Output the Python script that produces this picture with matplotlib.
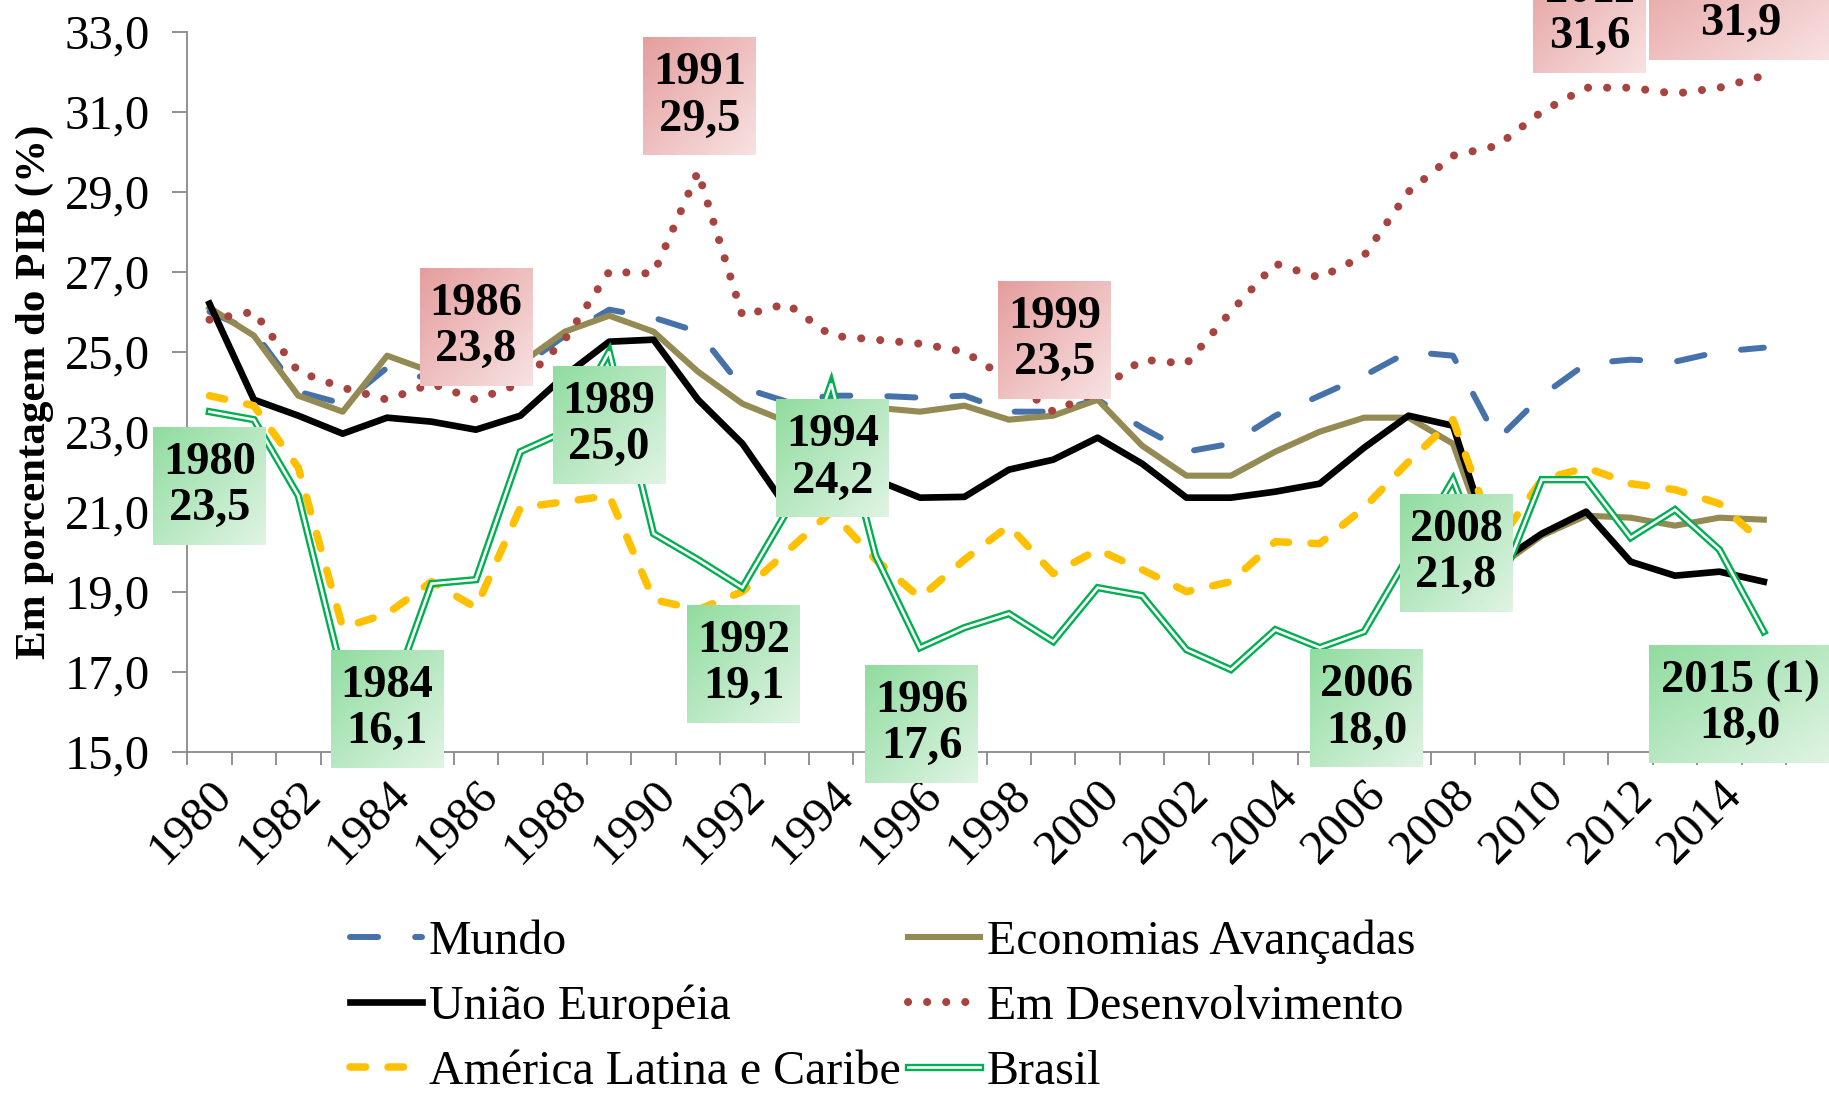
import numpy as np
import matplotlib
matplotlib.use('Agg')
import matplotlib.pyplot as plt
from matplotlib import patheffects as pe
from matplotlib.colors import to_rgb
from matplotlib.ticker import FuncFormatter, NullFormatter, FixedLocator

# ---------------- data ----------------
years = list(range(1980, 2016))

mundo = [26.0, 25.5, 24.0, 23.7, 24.6, 24.3, 24.2, 24.6, 25.4, 26.05,
         25.85, 25.5, 24.1, 23.75, 23.9, 23.9, 23.85, 23.9, 23.5, 23.5,
         23.8, 23.1, 22.5, 22.7, 23.4, 23.9, 24.4, 25.0, 24.9, 22.8,
         23.9, 24.7, 24.8, 24.75, 25.0, 25.1]

econ_avancadas = [26.1, 25.4, 23.9, 23.5, 24.9, 24.5, 24.3, 24.7, 25.5, 25.9,
                  25.5, 24.5, 23.7, 23.25, 23.7, 23.6, 23.5, 23.65, 23.3, 23.4,
                  23.8, 22.65, 21.9, 21.9, 22.5, 23.0, 23.35, 23.35, 22.7, 19.6,
                  20.4, 20.9, 20.85, 20.65, 20.85, 20.8]

uniao_europeia = [26.2, 23.8, 23.4, 22.95, 23.35, 23.25, 23.05, 23.4, 24.4, 25.25,
                  25.3, 23.8, 22.7, 21.1, 22.0, 21.8, 21.35, 21.37, 22.05, 22.3,
                  22.85, 22.2, 21.35, 21.35, 21.5, 21.7, 22.6, 23.4, 23.15, 19.7,
                  20.45, 21.0, 19.75, 19.4, 19.5, 19.25]

em_desenvolvimento = [25.8, 26.0, 24.5, 24.1, 23.8, 24.2, 23.8, 24.2, 25.3, 27.0,
                      26.95, 29.5, 25.9, 26.2, 25.4, 25.3, 25.2, 25.0, 24.3, 23.5,
                      24.0, 24.8, 24.7, 26.0, 27.2, 26.85, 27.4, 29.0, 29.9, 30.15,
                      31.0, 31.6, 31.6, 31.45, 31.6, 31.9]

america_latina = [23.9, 23.65, 22.1, 18.1, 18.45, 19.25, 18.6, 21.1, 21.25, 21.4,
                  18.8, 18.55, 19.0, 20.0, 21.0, 19.8, 18.85, 19.8, 20.65, 19.45,
                  20.05, 19.55, 19.0, 19.25, 20.25, 20.2, 21.1, 22.25, 23.3, 20.2,
                  21.8, 22.1, 21.7, 21.55, 21.2, 20.2]

brasil = [23.5, 23.3, 21.4, 16.9, 16.1, 19.2, 19.3, 22.5, 23.0, 25.0,
          20.45, 19.8, 19.1, 21.0, 24.2, 19.9, 17.6, 18.1, 18.45, 17.75,
          19.1, 18.9, 17.55, 17.05, 18.05, 17.6, 18.0, 19.9, 21.8, 19.0,
          21.8, 21.8, 20.35, 21.05, 20.05, 18.0]

series_names = ["Mundo", "Economias Avançadas", "União Européia",
                "Em Desenvolvimento", "América Latina e Caribe", "Brasil"]

tick_label_years = list(range(1980, 2015, 2))
y_ticks = [15, 17, 19, 21, 23, 25, 27, 29, 31, 33]

# annotated points (series, year) ; year 2015 is marked "(1)"
ann_series = ["Brasil", "Brasil", "Em Desenvolvimento", "Brasil", "Em Desenvolvimento",
              "Brasil", "Brasil", "Brasil", "Em Desenvolvimento", "Brasil",
              "Brasil", "Em Desenvolvimento", "Brasil", "Em Desenvolvimento"]
ann_years = [1980, 1984, 1986, 1989, 1991, 1992, 1994, 1996, 1999, 2006,
             2008, 2011, 2015, 2015]
ann_year_text = {2015: "2015 (1)"}

# --------------- layout / style ---------------
W, H, DPI = 18.29, 10.93, 100
fig = plt.figure(figsize=(W, H), dpi=DPI)
ax = fig.add_axes([0.1024, 0.3123, 0.8741, 0.6587])

SERIF = ["Liberation Serif", "DejaVu Serif"]
AXC = "#898989"

values = {
    "Mundo": mundo,
    "Economias Avançadas": econ_avancadas,
    "União Européia": uniao_europeia,
    "Em Desenvolvimento": em_desenvolvimento,
    "América Latina e Caribe": america_latina,
    "Brasil": brasil,
}

lines = {}
l, = ax.plot(years, mundo, color="#4672A9", lw=4.3, dashes=(4.7, 6.2),
             dash_capstyle="round", solid_joinstyle="round", zorder=2, label="Mundo")
lines["Mundo"] = l
l, = ax.plot(years, econ_avancadas, color="#948A54", lw=4.4, solid_joinstyle="round",
             zorder=3, label="Economias Avançadas")
lines["Economias Avançadas"] = l
l, = ax.plot(years, uniao_europeia, color="black", lw=4.8, solid_joinstyle="round",
             zorder=4, label="União Européia")
lines["União Européia"] = l
l, = ax.plot(years, em_desenvolvimento, color="#A84440", lw=5.8, dashes=(0.01, 2.36),
             dash_capstyle="round", zorder=5, label="Em Desenvolvimento")
lines["Em Desenvolvimento"] = l
l, = ax.plot(years, america_latina, color="#FFC000", lw=5.4, dashes=(2.07, 3.0),
             dash_capstyle="round", zorder=6, label="América Latina e Caribe")
lines["América Latina e Caribe"] = l
l, = ax.plot(years, brasil, color="white", lw=1.9, solid_joinstyle="miter", zorder=7,
             label="Brasil",
             path_effects=[pe.Stroke(linewidth=5.3, foreground="#00B050"), pe.Normal()])
lines["Brasil"] = l

# axes limits and ticks
ax.set_autoscale_on(False)
ax.set_xlim(years[0] - 0.5, years[-1] + 0.5)
ax.set_ylim(y_ticks[0], y_ticks[-1])

for s in ["top", "right"]:
    ax.spines[s].set_visible(False)
for s in ["left", "bottom"]:
    ax.spines[s].set_color(AXC)
    ax.spines[s].set_linewidth(1.3)

ax.set_yticks(y_ticks)
ax.yaxis.set_major_formatter(FuncFormatter(lambda v, p: f"{v:.1f}".replace(".", ",")))
ax.tick_params(axis="y", direction="out", length=11, width=1.3, color=AXC,
               labelsize=35, pad=16)

bounds = np.arange(years[0] - 0.5, years[-1] + 1.0, 1.0)
ax.xaxis.set_major_locator(FixedLocator(bounds))
ax.xaxis.set_major_formatter(NullFormatter())
ax.tick_params(axis="x", which="major", direction="out", length=9.4, width=1.3, color=AXC)
ax.set_xticks(tick_label_years, labels=[str(y) for y in tick_label_years], minor=True,
              rotation=45, ha="right", va="top", rotation_mode="anchor")
ax.tick_params(axis="x", which="minor", length=0, labelsize=35, pad=15)

for lbl in ax.get_yticklabels() + ax.get_xticklabels(minor=True):
    lbl.set_fontfamily(SERIF)

ax.set_ylabel("Em porcentagem do PIB (%)", fontfamily=SERIF, fontweight="bold",
              fontsize=31)
ax.yaxis.set_label_coords(-0.0834, 0.5)

# --------------- annotation boxes ---------------
GREEN = ("#90DC9F", "#E0F4E4")
RED = ("#E59D9D", "#F8E2E2")

box_dx = [0.0, 0.0, 0.0, 0.0, 0.04, 0.03, 0.03, 0.04, 0.03, 0.06, 0.07, 0.08, -0.53, -0.53]
box_dy = [-1.86, -0.03, 1.82, -1.83, 1.88, -1.9, -1.87, -1.9, 1.8, -1.92, -1.84, 1.84,
          -1.81, 1.87]
box_w = [2.54] * 12 + [4.1, 4.1]
box_h = 2.95


def gradient(c1, c2, n=80):
    a = np.array(to_rgb(c1))
    b = np.array(to_rgb(c2))
    i = np.linspace(0, 1, n)[:, None]
    j = np.linspace(0, 1, n)[None, :]
    t = ((i + j) / 2)[..., None]
    return a[None, None, :] * (1 - t) + b[None, None, :] * t


for k, (sname, yr) in enumerate(zip(ann_series, ann_years)):
    val = values[sname][years.index(yr)]
    cx = yr + box_dx[k]
    cy = val + box_dy[k]
    cols = RED if sname == "Em Desenvolvimento" else GREEN
    x0, x1 = cx - box_w[k] / 2, cx + box_w[k] / 2
    y0, y1 = cy - box_h / 2, cy + box_h / 2
    ax.imshow(gradient(*cols), extent=[x0, x1, y0, y1], origin="upper", aspect="auto",
              interpolation="bilinear", zorder=10, clip_on=False)
    ytxt = ann_year_text.get(yr, str(yr))
    vtxt = f"{val:.1f}".replace(".", ",")
    ax.text(cx, cy, f"{ytxt}\n{vtxt}", ha="center", va="center", multialignment="center",
            fontfamily=SERIF, fontweight="bold", fontsize=33.5, linespacing=1.13,
            zorder=11, clip_on=False)

ax.set_xlim(years[0] - 0.5, years[-1] + 0.5)
ax.set_ylim(y_ticks[0], y_ticks[-1])

# --------------- legend ---------------
order = ["Mundo", "União Européia", "América Latina e Caribe",
         "Economias Avançadas", "Em Desenvolvimento", "Brasil"]
leg = fig.legend([lines[n] for n in order], order, loc="upper left",
                 bbox_to_anchor=(350 / 1829, 1 - 919 / 1093), ncol=2, frameon=False,
                 prop={"family": SERIF, "size": 34.5}, handlelength=1.5,
                 handletextpad=0.15, columnspacing=0.15, labelspacing=0.44,
                 borderpad=0, borderaxespad=0)

fig.savefig("out.png", dpi=DPI)
